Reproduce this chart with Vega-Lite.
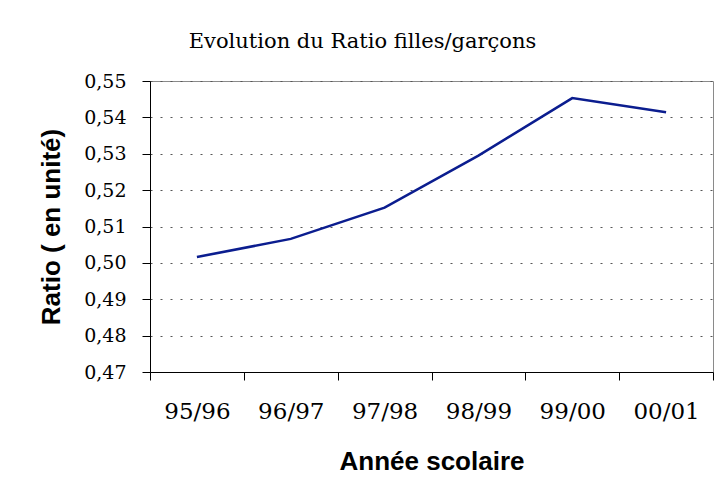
{
  "$schema": "https://vega.github.io/schema/vega-lite/v6.json",
  "width": 563,
  "height": 291,
  "autosize": {"type": "none"},
  "padding": {"left": 150, "top": 81, "right": 14, "bottom": 117},
  "background": "white",
  "config": {
    "locale": {"number": {"decimal": ",", "thousands": ".", "grouping": [3], "currency": ["", " €"]}},
    "view": {"stroke": "#8a8a8a", "strokeWidth": 1}
  },
  "title": {
    "text": "Evolution du Ratio filles/garçons",
    "font": "DejaVu Serif",
    "fontSize": 21,
    "fontWeight": "normal",
    "color": "black",
    "anchor": "middle",
    "frame": "group",
    "dx": -69,
    "offset": 20
  },
  "data": {
    "values": [
      {"annee": "95/96", "ratio": 0.5016},
      {"annee": "96/97", "ratio": 0.5066},
      {"annee": "97/98", "ratio": 0.5152},
      {"annee": "98/99", "ratio": 0.5295},
      {"annee": "99/00", "ratio": 0.5453},
      {"annee": "00/01", "ratio": 0.5414}
    ]
  },
  "mark": {"type": "line", "color": "#0b1d8f", "strokeWidth": 2.5},
  "encoding": {
    "x": {
      "field": "annee",
      "type": "ordinal",
      "sort": null,
      "scale": {"type": "band", "paddingInner": 0, "paddingOuter": 0},
      "axis": {
        "title": "Année scolaire",
        "titleFont": "Liberation Sans",
        "titleFontSize": 26,
        "titleFontWeight": "bold",
        "titleColor": "black",
        "titlePadding": 25,
        "labelFont": "DejaVu Serif",
        "labelFontSize": 23,
        "labelColor": "black",
        "labelAngle": 0,
        "labelPadding": 20,
        "tickBand": "extent",
        "tickSize": 8,
        "tickColor": "black",
        "domainColor": "black",
        "grid": false
      }
    },
    "y": {
      "field": "ratio",
      "type": "quantitative",
      "scale": {"domain": [0.47, 0.55], "nice": false, "zero": false},
      "axis": {
        "title": "Ratio ( en unité)",
        "titleFont": "Liberation Sans",
        "titleFontSize": 26,
        "titleFontWeight": "bold",
        "titleColor": "black",
        "titlePadding": 19,
        "values": [0.47, 0.48, 0.49, 0.5, 0.51, 0.52, 0.53, 0.54, 0.55],
        "format": ".2f",
        "labelFont": "DejaVu Serif",
        "labelFontSize": 19,
        "labelColor": "black",
        "labelPadding": 16,
        "tickSize": 8,
        "tickColor": "black",
        "domainColor": "black",
        "grid": true,
        "gridColor": "#555555",
        "gridDash": [2, 8],
        "gridWidth": 1
      }
    }
  }
}
